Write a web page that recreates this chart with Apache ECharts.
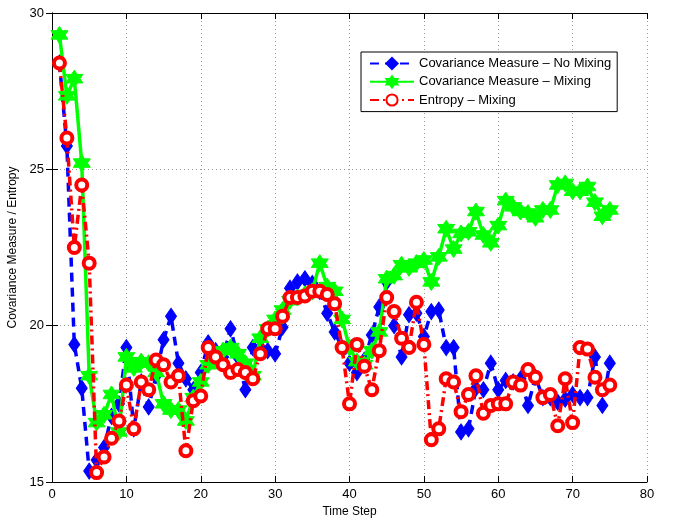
<!DOCTYPE html>
<html><head><meta charset="utf-8">
<script src="https://cdn.jsdelivr.net/npm/echarts@6/dist/echarts.min.js"></script>
<style>html,body{margin:0;padding:0;background:#fff}#c{width:677px;height:520px}</style>
</head><body><div id="c"></div>
<script>
var steps = [1,2,3,4,5,6,7,8,9,10,11,12,13,14,15,16,17,18,19,20,21,22,23,24,25,26,27,28,29,30,31,32,33,34,35,36,37,38,39,40,41,42,43,44,45,46,47,48,49,50,51,52,53,54,55,56,57,58,59,60,61,62,63,64,65,66,67,68,69,70,71,72,73,74,75];
var covNoMix = [28.4,25.75,19.4,18.0,15.35,15.7,16.1,17.1,17.5,19.3,16.7,18.2,17.4,18.4,19.55,20.3,18.8,18.3,17.95,18.5,19.45,19.2,19.0,19.9,19.0,17.95,19.3,19.3,19.2,19.1,19.95,21.2,21.4,21.5,21.35,21.1,20.4,19.8,19.3,18.8,18.5,18.9,19.7,20.6,21.4,20.0,19.0,20.35,20.4,19.65,20.45,20.5,19.3,19.3,16.6,16.7,18.0,17.95,18.8,17.95,18.25,18.2,18.3,17.45,18.35,17.7,17.7,17.55,17.65,17.8,17.7,17.7,19.0,17.45,18.8];
var covMix = [29.3,27.35,27.9,25.2,18.4,16.9,17.15,17.8,16.6,19.0,18.65,18.85,18.8,18.5,17.5,17.3,17.3,16.95,17.7,18.2,18.75,18.95,19.2,19.3,19.1,18.8,18.4,19.6,19.9,20.2,20.5,20.8,20.9,21.0,21.1,22.0,21.25,21.1,20.2,19.3,18.85,18.75,19.2,19.8,21.5,21.6,21.95,21.85,22.0,22.1,21.4,22.2,23.1,22.45,22.95,23.0,23.65,22.9,22.65,23.2,24.0,23.8,23.65,23.6,23.45,23.7,23.7,24.5,24.55,24.3,24.3,24.45,23.95,23.5,23.7];
var entropyMix = [28.4,26.0,22.5,24.5,22.0,15.3,15.8,16.4,16.95,18.1,16.7,18.2,17.95,18.9,18.75,18.2,18.4,16.0,17.6,17.75,19.3,19.0,18.75,18.5,18.6,18.5,18.3,19.1,19.9,19.9,20.3,20.9,20.9,20.95,21.1,21.1,21.0,20.7,19.3,17.5,19.4,18.7,17.95,19.2,20.9,20.45,19.6,19.3,20.75,19.4,16.35,16.7,18.3,18.2,17.25,17.8,18.4,17.2,17.45,17.5,17.5,18.2,18.1,18.6,18.35,17.7,17.8,16.8,18.3,16.9,19.3,19.25,18.35,17.95,18.1];
var seriesNames = ['Covariance Measure \u2013 No Mixing','Covariance Measure \u2013 Mixing','Entropy \u2013 Mixing'];
var xTicks = [0,10,20,30,40,50,60,70,80];
var yTicks = [15,20,25,30];

function pairs(ys){ return steps.map(function(x,i){ return [x, ys[i]]; }); }
var star = 'path://M10,0L12.885,5L18.66,5L15.77,10L18.66,15L12.885,15L10,20L7.115,15L1.34,15L4.23,10L1.34,5L7.115,5Z';
var FONT = 'Liberation Sans, Arial, Helvetica, sans-serif';
var chart = echarts.init(document.getElementById('c'), null, {renderer:'canvas'});
var gridLine = {show:true, lineStyle:{color:'#9a9a9a', type:[1,3], width:1}};
chart.setOption({
  animation:false,
  backgroundColor:'#fff',
  textStyle:{fontFamily:FONT},
  grid:{left:52,right:30,top:13,bottom:38,containLabel:false,outerBoundsMode:'none'},
  legend:{
    orient:'vertical', left:361, top:52, itemWidth:44, itemHeight:14, itemGap:5,
    padding:[5,6,5,8], borderColor:'#000', borderWidth:1, backgroundColor:'#fff',
    textStyle:{fontFamily:FONT, fontSize:13, color:'#000'},
    data:seriesNames
  },
  xAxis:[{
    type:'value', min:xTicks[0], max:xTicks[xTicks.length-1], interval:10,
    name:'Time Step', nameLocation:'middle', nameGap:23,
    nameTextStyle:{fontFamily:FONT, fontSize:12, color:'#000'},
    axisLine:{lineStyle:{color:'#000', width:1}},
    axisTick:{inside:true, length:6, lineStyle:{color:'#000'}},
    axisLabel:{fontFamily:FONT, fontSize:13, color:'#000', margin:6},
    splitLine:gridLine
  },{
    type:'value', position:'top', min:xTicks[0], max:xTicks[xTicks.length-1], interval:10,
    axisLine:{lineStyle:{color:'#000'}}, axisTick:{inside:true, length:6, lineStyle:{color:'#000'}},
    axisLabel:{show:false}, splitLine:{show:false}
  }],
  yAxis:[{
    type:'value', min:yTicks[0], max:yTicks[yTicks.length-1], interval:5,
    name:'Covariance Measure / Entropy', nameLocation:'middle', nameGap:31, nameRotate:90,
    nameTextStyle:{fontFamily:FONT, fontSize:12, color:'#000'},
    axisLine:{show:true, lineStyle:{color:'#000', width:1}},
    axisTick:{show:true, inside:true, length:6, lineStyle:{color:'#000'}},
    axisLabel:{fontFamily:FONT, fontSize:13, color:'#000', margin:8},
    splitLine:gridLine
  },{
    type:'value', position:'right', min:yTicks[0], max:yTicks[yTicks.length-1], interval:5,
    axisLine:{show:true, lineStyle:{color:'#000'}}, axisTick:{show:true, inside:true, length:6, lineStyle:{color:'#000'}},
    axisLabel:{show:false}, splitLine:{show:false}
  }],
  series:[{
    name:seriesNames[0], type:'line', data:pairs(covNoMix),
    symbol:'diamond', symbolSize:[11,16],
    lineStyle:{color:'#0000ff', width:3.5, type:[9,6]},
    itemStyle:{color:'#0000ff', borderColor:'#0000ff', borderWidth:1}, z:2
  },{
    name:seriesNames[1], type:'line', data:pairs(covMix),
    symbol:star, symbolSize:17,
    lineStyle:{color:'#00ff00', width:3.5},
    itemStyle:{color:'#00ff00', borderColor:'#00ff00', borderWidth:1}, z:3
  },{
    name:seriesNames[2], type:'line', data:pairs(entropyMix),
    symbol:'circle', symbolSize:11,
    lineStyle:{color:'#ff0000', width:3.5, type:[9,4,2,4]},
    itemStyle:{color:'#ffffff', borderColor:'#ff0000', borderWidth:4}, z:4
  }]
});
</script></body></html>
